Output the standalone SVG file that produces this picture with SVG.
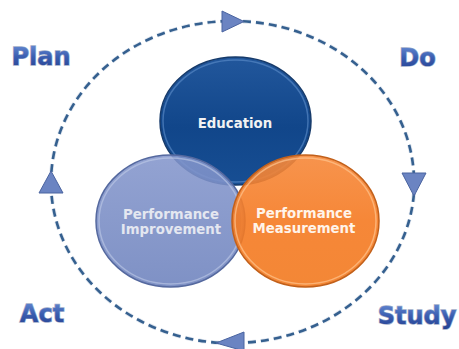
<svg xmlns="http://www.w3.org/2000/svg" width="459" height="349" viewBox="0 0 459 349">
  <defs>
    <linearGradient id="eduGrad" x1="0" y1="0" x2="0" y2="1">
      <stop offset="0" stop-color="#22579c"/>
      <stop offset="0.55" stop-color="#11468a"/>
      <stop offset="1" stop-color="#174e93"/>
    </linearGradient>
    <linearGradient id="impGrad" x1="0" y1="0" x2="0" y2="1">
      <stop offset="0" stop-color="#8496cc"/>
      <stop offset="1" stop-color="#6d82bd"/>
    </linearGradient>
    <linearGradient id="meaGrad" x1="0" y1="0" x2="0" y2="1">
      <stop offset="0" stop-color="#f6883a"/>
      <stop offset="0.5" stop-color="#f57a22"/>
      <stop offset="1" stop-color="#f27a20"/>
    </linearGradient>
    <linearGradient id="labelGrad" x1="0" y1="0" x2="0" y2="1">
      <stop offset="0" stop-color="#6a8fd6"/>
      <stop offset="0.5" stop-color="#3a5db0"/>
      <stop offset="1" stop-color="#243f8e"/>
    </linearGradient>
    <style>
      .dash { fill: none; stroke: #35608f; stroke-width: 2.6; stroke-dasharray: 8 5; }
      .dashHi { fill: none; stroke: #c9d3e2; stroke-width: 4.2; stroke-dasharray: 8 5; opacity: 0.6; }
      .arrow { fill: #6b84c2; stroke: #4a64a0; stroke-width: 1; stroke-linejoin: round; }
      .big { font-family: "DejaVu Sans", "Liberation Sans", sans-serif; font-weight: bold; font-size: 24px; fill: url(#labelGrad); stroke: #9fadc9; stroke-width: 1.4; paint-order: stroke; text-anchor: middle; }
      .ctext { font-family: "DejaVu Sans", "Liberation Sans", sans-serif; font-weight: bold; font-size: 13.3px; text-anchor: middle; }
      .rim { fill: none; stroke-width: 1.5; }
    </style>
  </defs>

  <g id="connectors">
    <path class="dashHi" d="M 51.4 172 A 181.5 161 0 0 1 224 21.2"/>
    <path class="dash" d="M 51.4 172 A 181.5 161 0 0 1 224 21.2"/>
    <path class="dashHi" d="M 243 21.3 A 181.5 161 0 0 1 413.8 174"/>
    <path class="dash" d="M 243 21.3 A 181.5 161 0 0 1 413.8 174"/>
    <path class="dashHi" d="M 413.9 194 A 181.5 161 0 0 1 243 342.7"/>
    <path class="dash" d="M 413.9 194 A 181.5 161 0 0 1 243 342.7"/>
    <path class="dashHi" d="M 219 342.8 A 181.5 161 0 0 1 51.3 192"/>
    <path class="dash" d="M 219 342.8 A 181.5 161 0 0 1 51.3 192"/>
    <polygon class="arrow" points="222,11 222,32 244,21.5"/>
    <polygon class="arrow" points="402,173 426,173 414,196"/>
    <polygon class="arrow" points="244,332 244,351 216,343"/>
    <polygon class="arrow" points="39,193 63,193 51,171"/>
  </g>

  <g id="education">
    <ellipse cx="235.5" cy="121" rx="75.5" ry="64" fill="url(#eduGrad)" stroke="#163a6a" stroke-width="1.5"/>
    <ellipse class="rim" cx="235.5" cy="121" rx="72.5" ry="61" stroke="#5f8fcc" opacity="0.6"/>
    <text class="ctext" x="235" y="128" fill="#f2f2f2">Education</text>
  </g>

  <g id="improvement">
    <ellipse cx="170.5" cy="221" rx="74.5" ry="66" fill="url(#impGrad)" fill-opacity="0.88" stroke="#55699f" stroke-width="1.5"/>
    <ellipse class="rim" cx="170.5" cy="221" rx="71.5" ry="63" stroke="#c0cbe8" opacity="0.6"/>
    <text class="ctext" x="171" y="219" fill="#e4e7f0">Performance</text>
    <text class="ctext" x="171" y="234" fill="#e4e7f0">Improvement</text>
  </g>

  <g id="measurement">
    <ellipse cx="305.5" cy="221" rx="73.5" ry="66" fill="url(#meaGrad)" fill-opacity="0.9" stroke="#c2601a" stroke-width="1.5"/>
    <ellipse class="rim" cx="305.5" cy="221" rx="70.5" ry="63" stroke="#ffc48e" opacity="0.7"/>
    <text class="ctext" x="304" y="218" fill="#fff4ea">Performance</text>
    <text class="ctext" x="304" y="233" fill="#fff4ea">Measurement</text>
  </g>

  <g id="plan"><text class="big" x="41" y="65">Plan</text></g>
  <g id="do"><text class="big" x="417.5" y="66">Do</text></g>
  <g id="act"><text class="big" x="42" y="322">Act</text></g>
  <g id="study"><text class="big" x="417" y="324">Study</text></g>
</svg>
